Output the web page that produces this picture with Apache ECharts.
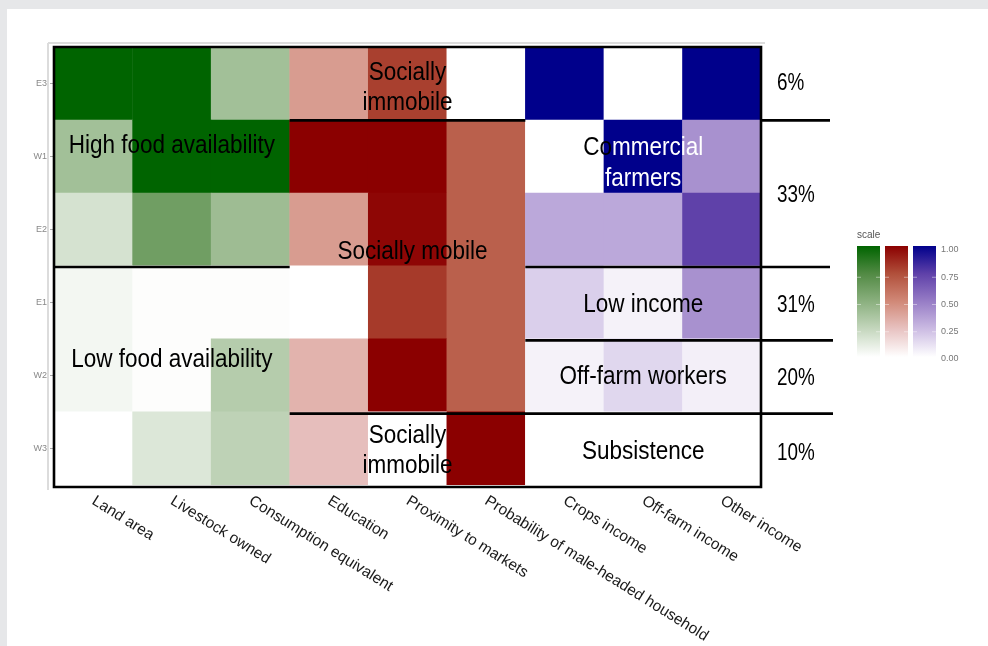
<!DOCTYPE html>
<html>
<head>
<meta charset="utf-8">
<script src="https://cdn.jsdelivr.net/npm/echarts@6/dist/echarts.min.js"></script>
<style>
  html, body { margin: 0; padding: 0; background: #e6e7e9; width: 988px; height: 646px; overflow: hidden; }
  #panel { position: absolute; left: 7px; top: 9px; width: 981px; height: 637px; background: #ffffff; }
  #chart { position: absolute; left: 0; top: 0; width: 988px; height: 646px; }
</style>
</head>
<body>
<div id="panel"></div>
<div id="chart"></div>
<script>
// ---------------- data ----------------
const columns = ['Land area', 'Livestock owned', 'Consumption equivalent',
  'Education', 'Proximity to markets', 'Probability of male-headed household',
  'Crops income', 'Off-farm income', 'Other income'];
const rowsTopDown = ['E3', 'W1', 'E2', 'E1', 'W2', 'W3'];

// values per row (top to bottom), 3 columns each, scaled 0..1
const foodValues = [
  [1.00, 1.00, 0.40],
  [0.40, 1.00, 1.00],
  [0.18, 0.62, 0.42],
  [0.05, 0.01, 0.01],
  [0.05, 0.01, 0.32],
  [0.00, 0.15, 0.28]
];
const socialValues = [
  [0.42, 0.80, 0.00],
  [1.00, 1.00, 0.68],
  [0.42, 0.98, 0.68],
  [0.00, 0.82, 0.68],
  [0.32, 1.00, 0.68],
  [0.27, 0.00, 1.00]
];
const incomeValues = [
  [1.00, 0.00, 1.00],
  [0.00, 1.00, 0.42],
  [0.33, 0.33, 0.75],
  [0.18, 0.05, 0.42],
  [0.05, 0.15, 0.06],
  [0.00, 0.00, 0.00]
];
const legendTicks = ['1.00', '0.75', '0.50', '0.25', '0.00'];
const legendTitle = 'scale';
const shareLabels = ['6%', '33%', '31%', '20%', '10%'];

// ---------------- styling ----------------
const greenScale = ['#ffffff', '#c5d7be', '#8bb07f', '#528a44', '#006400'];
const redScale = ['#ffffff', '#e8c3c2', '#d18978', '#b1503b', '#8b0000'];
const blueScale = ['#ffffff', '#ccbce3', '#977dc6', '#5f41a9', '#00008b'];
const FONT = "'Liberation Sans', Arial, sans-serif";

const G = { left: 54, top: 47, width: 707, height: 440 };
const cw = G.width / columns.length;
const rh = G.height / rowsTopDown.length;
const colX = i => G.left + i * cw;
const rowY = i => G.top + i * rh;

function toData(values, colOffset) {
  const out = [];
  values.forEach((row, r) => {
    row.forEach((v, c) => out.push([colOffset + c, rowsTopDown[r], v]));
  });
  return out;
}

const chart = echarts.init(document.getElementById('chart'), null, { renderer: 'canvas' });

// ---------------- overlay graphics ----------------
const L = 2.6;
function hline(y, x1, x2) {
  return { type: 'line', z: 100, shape: { x1: x1, y1: y, x2: x2, y2: y }, style: { stroke: '#000', lineWidth: L } };
}
function label(text, x, y, size, sx, extra) {
  return Object.assign({
    type: 'text', z: 101, x: x, y: y, scaleX: sx,
    style: { text: text, fill: '#000', font: size + 'px ' + FONT, align: 'center', verticalAlign: 'middle', lineHeight: 30 }
  }, extra || {});
}

const graphics = [];
// faint panel edge (top & left)
graphics.push({ type: 'line', z: 1, shape: { x1: 48, y1: 43, x2: 765, y2: 43 }, style: { stroke: '#dcdcdc', lineWidth: 2 } });
graphics.push({ type: 'line', z: 1, shape: { x1: 48, y1: 43, x2: 48, y2: 490 }, style: { stroke: '#dcdcdc', lineWidth: 2 } });
// outer box
graphics.push({ type: 'rect', z: 100, shape: { x: G.left, y: G.top, width: G.width, height: G.height }, style: { fill: null, stroke: '#000', lineWidth: L } });
// group separators
graphics.push(hline(rowY(3), colX(0), colX(3)));
graphics.push(hline(rowY(1), colX(3), colX(6)));
graphics.push(hline(rowY(1), colX(9), 830));
graphics.push(hline(rowY(3), colX(6), 830));
graphics.push(hline(rowY(4), colX(6), 833));
graphics.push(hline(rowY(5), colX(3), 833));

const midA = (colX(0) + colX(3)) / 2;
const midB = (colX(4) + colX(5)) / 2;
const midC = (colX(6) + colX(9)) / 2;
graphics.push(label('High food availability', midA, 146, 25, 0.9));
graphics.push(label('Low food availability', midA, 360, 25, 0.9));
graphics.push(label('Socially\nimmobile', midB, 88, 25, 0.9));
graphics.push(label('Socially mobile', midB + 5, 252, 25, 0.9));
graphics.push(label('Socially\nimmobile', midB, 451, 25, 0.9));
graphics.push({
  type: 'text', z: 101, x: midC, y: 164, scaleX: 0.9,
  style: {
    text: '{b|Co}{w|mmercial}\n{w|farmers}',
    align: 'center', verticalAlign: 'middle', font: '25px ' + FONT,
    rich: {
      b: { fill: '#000', color: '#000', font: '25px ' + FONT, lineHeight: 31 },
      w: { fill: '#fff', color: '#fff', font: '25px ' + FONT, lineHeight: 31 }
    }
  }
});
graphics.push(label('Low income', midC, 305, 25, 0.9));
graphics.push(label('Off-farm workers', midC, 377, 25, 0.9));
graphics.push(label('Subsistence', midC, 452, 25, 0.9));

// share labels
const shareY = [84, 196, 306, 379, 454];
shareLabels.forEach((t, i) => {
  graphics.push({
    type: 'text', z: 101, x: 777, y: shareY[i], scaleX: 0.82,
    style: { text: t, fill: '#000', font: '23px ' + FONT, align: 'left', verticalAlign: 'middle' }
  });
});

// legend (colour bars)
const LB = { top: 246, bottom: 357, w: 23 };
const barX = [857, 885, 913];
const scales = [greenScale, redScale, blueScale];
const tickY = i => 250 + i * 27.25;
graphics.push({ type: 'text', z: 101, x: 857, y: 235, style: { text: legendTitle, fill: '#555', font: '10px ' + FONT, align: 'left', verticalAlign: 'middle' } });
scales.forEach((sc, k) => {
  const stops = sc.map((c, i) => ({ offset: i / (sc.length - 1), color: c })).reverse()
    .map(s => ({ offset: 1 - s.offset, color: s.color }));
  graphics.push({
    type: 'rect', z: 101,
    shape: { x: barX[k], y: LB.top, width: LB.w, height: LB.bottom - LB.top },
    style: { fill: new echarts.graphic.LinearGradient(0, 0, 0, 1, stops) }
  });
  legendTicks.forEach((t, i) => {
    if (i === 0 || i === legendTicks.length - 1) return;
    const y = tickY(i);
    graphics.push({ type: 'line', z: 102, shape: { x1: barX[k], y1: y, x2: barX[k] + 4, y2: y }, style: { stroke: 'rgba(255,255,255,0.45)', lineWidth: 1 } });
    graphics.push({ type: 'line', z: 102, shape: { x1: barX[k] + LB.w - 4, y1: y, x2: barX[k] + LB.w, y2: y }, style: { stroke: 'rgba(255,255,255,0.45)', lineWidth: 1 } });
  });
});
legendTicks.forEach((t, i) => {
  graphics.push({ type: 'text', z: 101, x: 941, y: tickY(i), style: { text: t, fill: '#777', font: '9px ' + FONT, align: 'left', verticalAlign: 'middle' } });
});

// ---------------- option ----------------
const option = {
  animation: false,
  backgroundColor: 'transparent',
  grid: { left: G.left, top: G.top, width: G.width, height: G.height, containLabel: false },
  xAxis: {
    type: 'category', data: columns,
    axisLine: { show: false }, axisTick: { show: false }, splitLine: { show: false },
    axisLabel: { rotate: -32, interval: 0, margin: 15, color: '#1a1a1a', fontSize: 15.5, fontFamily: FONT }
  },
  yAxis: {
    type: 'category', data: rowsTopDown.slice().reverse(),
    axisLine: { show: false },
    axisTick: { show: true, alignWithLabel: true, length: 4, lineStyle: { color: '#aaa' } },
    splitLine: { show: false },
    axisLabel: { margin: 7, color: '#888', fontSize: 9, fontFamily: FONT }
  },
  visualMap: [
    { show: false, seriesIndex: 0, min: 0, max: 1, inRange: { color: greenScale } },
    { show: false, seriesIndex: 1, min: 0, max: 1, inRange: { color: redScale } },
    { show: false, seriesIndex: 2, min: 0, max: 1, inRange: { color: blueScale } }
  ],
  series: [
    { name: 'Food', type: 'heatmap', data: toData(foodValues, 0), itemStyle: { borderWidth: 0 } },
    { name: 'Social', type: 'heatmap', data: toData(socialValues, 3), itemStyle: { borderWidth: 0 } },
    { name: 'Income', type: 'heatmap', data: toData(incomeValues, 6), itemStyle: { borderWidth: 0 } }
  ],
  graphic: { elements: graphics }
};
chart.setOption(option);
</script>
</body>
</html>
